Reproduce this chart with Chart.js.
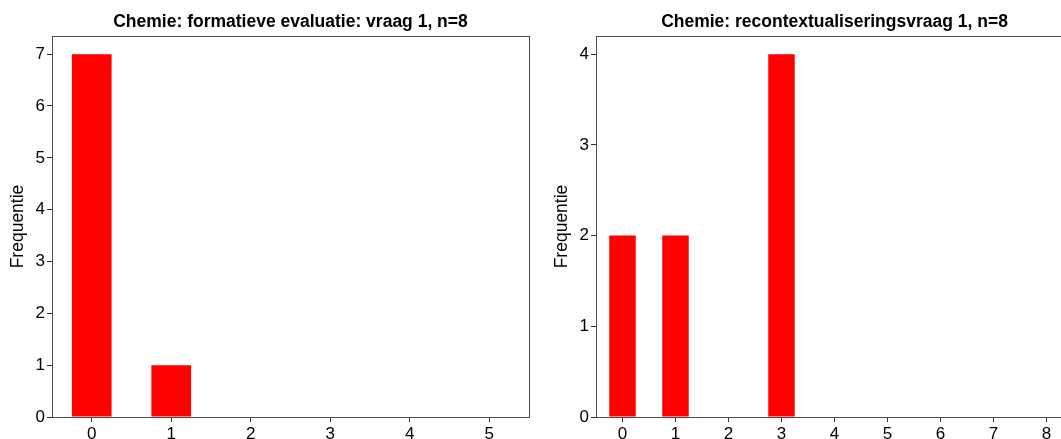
<!DOCTYPE html>
<html>
<head>
<meta charset="utf-8">
<script src="https://cdn.jsdelivr.net/npm/chart.js@4.4.1/dist/chart.umd.min.js"></script>
<style>
  html, body { margin: 0; padding: 0; background: #fff; overflow: hidden; width: 1061px; height: 439px; }
  canvas { position: absolute; top: 0; }
  #leftChart { left: 0; }
  #rightChart { left: 544px; }
</style>
</head>
<body>
<canvas id="leftChart" width="540" height="439"></canvas>
<canvas id="rightChart" width="540" height="439"></canvas>
<script>
// data
const leftTitle = "Chemie: formatieve evaluatie: vraag 1, n=8";
const leftLabels = ["0", "1", "2", "3", "4", "5"];
const leftValues = [7, 1, 0, 0, 0, 0];

const rightTitle = "Chemie: recontextualiseringsvraag 1, n=8";
const rightLabels = ["0", "1", "2", "3", "4", "5", "6", "7", "8"];
const rightValues = [2, 2, 0, 4, 0, 0, 0, 0, 0];

const yAxisTitle = "Frequentie";
const barColor = "#ff0000";
const fontFamily = "'Liberation Sans', Arial, sans-serif";

// draws the box around the plot area (matplotlib spines)
const frame = {
  id: "frame",
  afterDraw(chart) {
    const { ctx, chartArea: a } = chart;
    ctx.save();
    ctx.strokeStyle = "#4d4d4d";
    ctx.lineWidth = 1;
    ctx.strokeRect(Math.round(a.left) + 0.5, Math.round(a.top) + 0.5,
      Math.round(a.right - a.left), Math.round(a.bottom - a.top));
    ctx.restore();
  },
};

function renderChart(ctx, labels, values, titleText) {
  return new Chart(ctx, {
    type: "bar",
    data: {
      labels: labels,
      datasets: [
        {
          data: values,
          backgroundColor: barColor,
          borderWidth: 0,
          barPercentage: 0.5,
          categoryPercentage: 1.0,
        },
      ],
    },
    plugins: [frame],
    options: {
      responsive: false,
      animation: false,
      layout: { padding: { left: 0, right: 11, top: 0, bottom: 0 } },
      plugins: {
        legend: { display: false },
        tooltip: { enabled: false },
        title: {
          display: true,
          text: titleText,
          fullSize: false,
          color: "#000",
          font: { family: fontFamily, size: 17.5, weight: "bold" },
          padding: { top: 11.5, bottom: 3.5 },
        },
      },
      scales: {
        x: {
          offset: true,
          grid: { display: true, offset: false, drawOnChartArea: false, drawTicks: true, tickLength: 5, color: "#333" },
          border: { display: false },
          ticks: { color: "#000", padding: 2, font: { family: fontFamily, size: 17 } },
          afterFit(scale) { scale.height = 22; },
        },
        y: {
          min: 0,
          max: Math.max(...values) * 1.05,
          grid: { display: true, drawOnChartArea: false, drawTicks: true, tickLength: 5, color: "#333" },
          border: { display: false },
          ticks: {
            stepSize: 1,
            includeBounds: false,
            color: "#000",
            padding: 2,
            font: { family: fontFamily, size: 17 },
          },
          title: {
            display: true,
            text: yAxisTitle,
            color: "#000",
            padding: { top: 8, bottom: 0 },
            font: { family: fontFamily, size: 17.5 },
          },
          afterFit(scale) { scale.width = 52; },
        },
      },
    },
  });
}

renderChart(document.getElementById("leftChart"), leftLabels, leftValues, leftTitle);
renderChart(document.getElementById("rightChart"), rightLabels, rightValues, rightTitle);
</script>
</body>
</html>
